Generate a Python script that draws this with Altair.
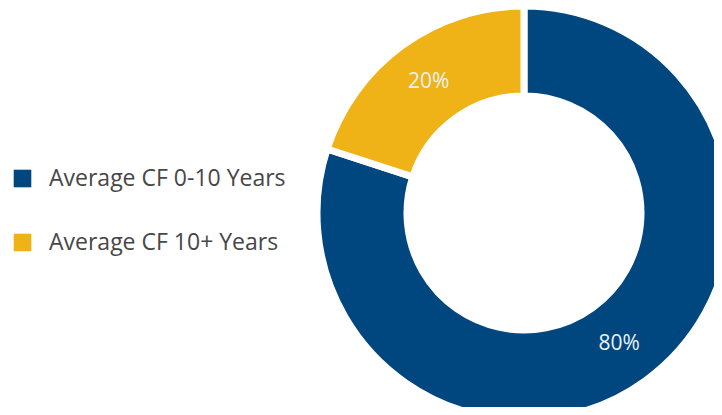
import altair as alt
import pandas as pd

categories = ["Average CF 0-10 Years", "Average CF 10+ Years"]
values = [80, 20]
labels = ["80%", "20%"]
colors = ["#00467f", "#efb217"]

df = pd.DataFrame({"cat": categories, "val": values, "lab": labels, "ord": [0, 1]})

CX, CY = 516, 205

base = alt.Chart(df).encode(
    theta=alt.Theta("val:Q", stack=True),
    order=alt.Order("ord:Q"),
    x=alt.value(CX),
    y=alt.value(CY),
)

arcs = base.mark_arc(outerRadius=207, innerRadius=117, stroke="white", strokeWidth=7).encode(
    color=alt.Color(
        "cat:N",
        scale=alt.Scale(domain=categories, range=colors),
        legend=alt.Legend(
            title=None,
            orient="none",
            legendX=3,
            legendY=159,
            symbolType="square",
            symbolSize=310,
            symbolStrokeWidth=0,
            labelFontSize=23,
            labelFont="Open Sans",
            labelColor="#474747",
            labelOffset=15,
            labelLimit=0,
            rowPadding=40,
            symbolOpacity=1,
        ),
    )
)

text = base.mark_text(radius=162, fontSize=21, font="Open Sans", color="#eef2f7").encode(
    text="lab:N"
)

chart = (
    alt.layer(arcs, text)
    .properties(width=706, height=399, padding=0, autosize=alt.AutoSizeParams(type="none"))
    .configure_view(stroke=None)
)

chart.save("out.html", embed_options={"renderer": "svg", "actions": False})
